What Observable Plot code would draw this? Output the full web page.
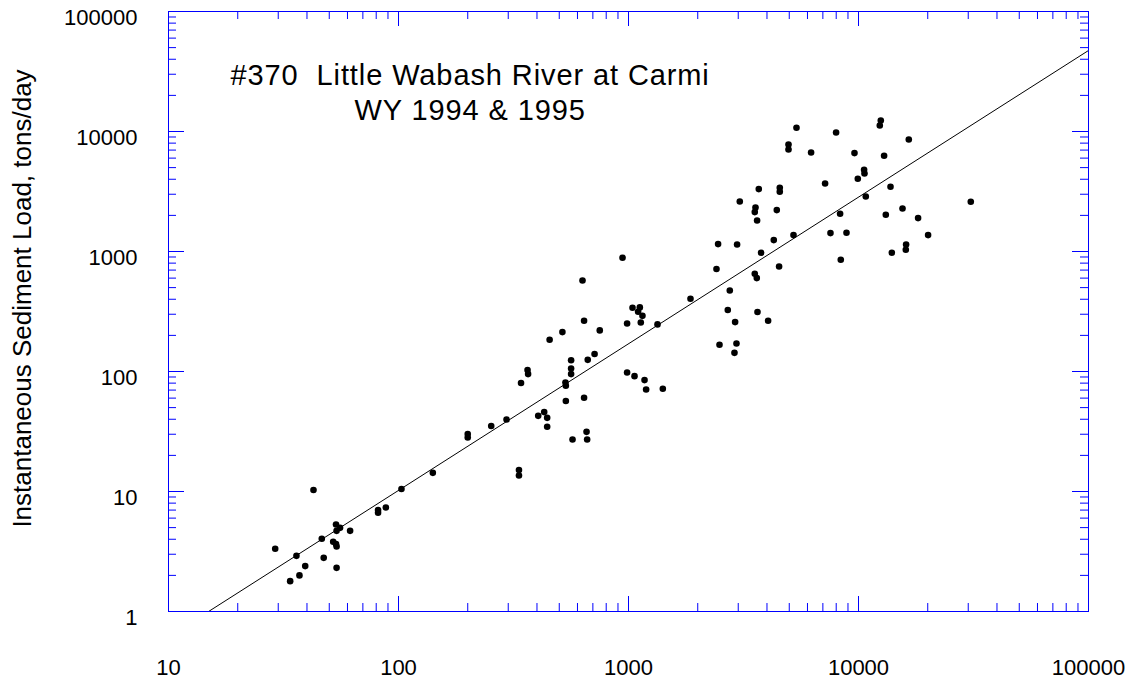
<!DOCTYPE html>
<html><head><meta charset="utf-8">
<script src="https://cdn.jsdelivr.net/npm/d3@7"></script>
<script src="https://cdn.jsdelivr.net/npm/@observablehq/plot@0.6"></script>
<style>
body{margin:0;background:#fff;}
#wrap{width:1136px;height:686px;}
</style></head><body><div id="wrap"></div>
<script>
// Discharge (x) and instantaneous sediment load (y)
const discharge = [29.1,42.7,36.0,33.8,37.1,39.3,46.4,47.3,53.5,53.8,55.7,52.0,53.5,53.8,53.8,61.6,81.5,81.5,88.1,103,141,
  200,200,253,295,334,334,341,364,366,405,430,443,443,454,516,532,534,534,563,563,563,571,631,641,641,657,661,665,712,750,
  942,986,986,1041,1062,1101,1120,1131,1150,1174,1193,1337,1410,1860,2413,2452,2966,2757,2702,2908,2487,2948,2889,
  3540,3612,3638,3771,4046,4516,3685,3566,3540,3623,4282,4413,4547,4547,4962,4962,5217,5375,6221,7157,7554,7990,8318,8375,8867,
  9607,9931,10576,10619,10757,12376,12502,12922,13144,13778,13960,15536,16106,16058,16547,18160,20074,30776,3047];
const load = [3.33,10.3,2.91,1.79,2.00,2.39,4.04,2.80,5.31,4.70,4.98,3.81,3.65,3.48,2.31,4.70,7.00,6.65,7.36,10.5,14.3,
  30.1,28.2,35.1,39.8,15.1,13.6,80.1,103,95.1,42.7,45.9,41.1,34.6,184,213,81.0,76.0,56.7,124,106,95.1,27.1,573,265,60.4,31.4,27.1,125,140,220,
  886,251,98.1,340,91.5,315,342,256,291,84.8,70.8,247,71.8,404,714,1153,1144,473,325,258,167,171,143,
  652,600,313,975,265,750,3311,2326,2130,1813,1245,2213,3395,3145,7793,7079,1370,10735,6683,3687,1423,9810,2061,853,1432,
  6607,4035,4796,4467,2873,11220,12351,6272,2022,3461,975,2282,1144,1033,8577,1898,1370,2595,2610];
// Fitted regression: log10(load) = fitIntercept + fitSlope * log10(discharge)
const fitIntercept = -1.435;
const fitSlope = 1.222;
const xDecades = [10,100,1000,10000,100000];
const yDecades = [1,10,100,1000,10000,100000];
const minorMultipliers = [2,3,4,5,6,7,8,9];
const titleLines = ["#370  Little Wabash River at Carmi", "WY 1994 & 1995"];
const yLabel = "Instantaneous Sediment Load, tons/day";

const points = discharge.map((x,i)=>({x, y: load[i]}));
const minor = decs => decs.slice(0,-1).flatMap(d => minorMultipliers.map(m => m*d));
const fitX = [xDecades[0], xDecades[xDecades.length-1]];
const fit = fitX.map(x => ({x, y: 10 ** (fitIntercept + fitSlope * Math.log10(x))}));

const W=1136, H=686, mL=168, mR=48, mT=11, mB=75;
const fw = W-mL-mR, fh = H-mT-mB;
const blue = "#0000ff";
const font = "'Liberation Sans', Arial, sans-serif";

const chart = Plot.plot({
  width: W, height: H,
  marginLeft: mL, marginRight: mR, marginTop: mT, marginBottom: mB,
  style: {fontFamily: font, fontSize: "22px", color: "#000", background: "#fff", overflow: "visible"},
  x: {type: "log", domain: [10, 100000]},
  y: {type: "log", domain: [1, 100000]},
  marks: [
    Plot.frame({stroke: blue}),
    // bottom ticks
    Plot.ruleX(xDecades, {x: d=>d, stroke: blue, insetTop: fh-15}),
    Plot.ruleX(minor(xDecades), {x: d=>d, stroke: blue, insetTop: fh-8}),
    // top ticks
    Plot.ruleX(xDecades, {x: d=>d, stroke: blue, insetBottom: fh-15}),
    Plot.ruleX(minor(xDecades), {x: d=>d, stroke: blue, insetBottom: fh-8}),
    // left ticks
    Plot.ruleY(yDecades, {y: d=>d, stroke: blue, insetRight: fw-16}),
    Plot.ruleY(minor(yDecades), {y: d=>d, stroke: blue, insetRight: fw-8}),
    // right ticks
    Plot.ruleY(yDecades, {y: d=>d, stroke: blue, insetLeft: fw-16}),
    Plot.ruleY(minor(yDecades), {y: d=>d, stroke: blue, insetLeft: fw-8}),
    Plot.axisX({ticks: xDecades, tickSize: 0, tickPadding: 48, tickFormat: d=>String(d), label: null, fontSize: 22}),
    Plot.axisY({ticks: yDecades, tickSize: 0, tickPadding: 31, dy: 6, tickFormat: d=>String(d), label: null, fontSize: 22}),
    Plot.line(fit, {x: "x", y: "y", stroke: "#000", strokeWidth: 1, clip: true}),
    Plot.dot(points, {x: "x", y: "y", r: 3.3, fill: "#000", stroke: "none"}),
    Plot.text([titleLines[0]], {text: d=>d, frameAnchor: "top-left", textAnchor: "start", lineAnchor: "bottom",
      dx: 230-mL, dy: 84.5-mT, fontSize: 29, fill: "#000", style: "letter-spacing:0.9px"}),
    Plot.text([titleLines[1]], {text: d=>d, frameAnchor: "top-left", textAnchor: "start", lineAnchor: "bottom",
      dx: 354-mL, dy: 119-mT, fontSize: 29, fill: "#000"}),
    Plot.text([yLabel], {text: d=>d, frameAnchor: "left", rotate: -90, textAnchor: "middle", lineAnchor: "middle",
      dx: 22-mL, dy: 298-(mT+fh/2), fontSize: 26, fill: "#000"})
  ]
});
// letter spacing for the title lines (wider face in the original)
chart.querySelectorAll("text").forEach(t => {
  if (titleLines.includes(t.textContent)) t.setAttribute("letter-spacing", "0.9");
});
document.getElementById("wrap").appendChild(chart);
</script></body></html>
